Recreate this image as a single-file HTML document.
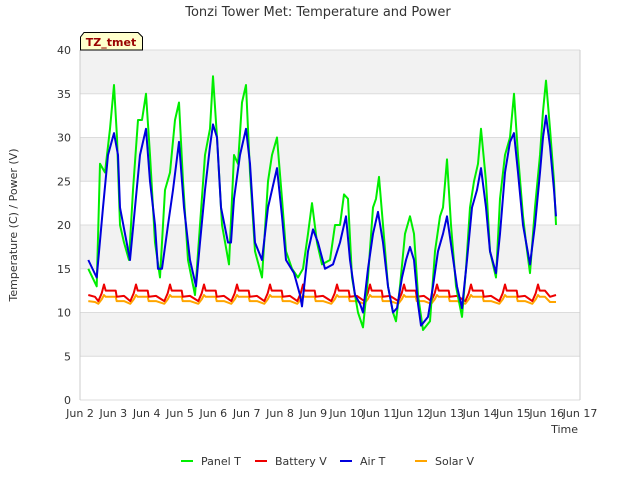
<!DOCTYPE html>
<html><head><meta charset="utf-8"><style>
body{margin:0;background:#fff;font-family:"DejaVu Sans","Liberation Sans",sans-serif;}
svg text{font-family:"DejaVu Sans","Liberation Sans",sans-serif;}
</style></head><body>
<svg id="chart" width="640" height="480" xmlns="http://www.w3.org/2000/svg">
<text x="318" y="16" font-size="13" fill="#333" text-anchor="middle">Tonzi Tower Met: Temperature and Power</text>
<g id="bands"></g>
<g id="grid"></g>
<g id="series"></g>
<g id="axes"></g>
<text transform="translate(17,225) rotate(-90)" font-size="11" fill="#333" text-anchor="middle">Temperature (C) / Power (V)</text>
<text x="578" y="433" font-size="11" fill="#333" text-anchor="end">Time</text>
<g>
<path d="M80.5,50 L80.5,37 L84,32.5 L138,32.5 L142.5,37 L142.5,50 Z" fill="#ffffcc" stroke="#000" stroke-width="1"/>
<text x="111" y="46" font-size="11" font-weight="bold" fill="#990000" text-anchor="middle">TZ_tmet</text>
</g>
<g id="legend"></g>
</svg>
<script>
const panelT_t=[0.25,0.5,0.6,0.75,0.9,1.02,1.11,1.2,1.32,1.47,1.59,1.74,1.86,1.98,2.1,2.25,2.4,2.55,2.7,2.85,2.97,3.09,3.24,3.45,3.6,3.75,3.9,3.99,4.11,4.26,4.47,4.62,4.74,4.86,4.98,5.1,5.25,5.46,5.64,5.76,5.91,6.06,6.18,6.36,6.54,6.69,6.84,6.96,7.11,7.26,7.5,7.65,7.8,7.92,8.04,8.16,8.34,8.49,8.64,8.79,8.88,8.97,9.09,9.24,9.39,9.48,9.6,9.75,9.9,10.02,10.14,10.29,10.5,10.65,10.8,10.89,11.01,11.13,11.28,11.46,11.58,11.7,11.82,11.94,12.03,12.18,12.3,12.48,12.6,12.75,12.9,13.02,13.14,13.29,13.38,13.5,13.65,13.8,13.89,13.98,14.1,14.22,14.28];
const panelT_v=[15,13,27,26,31,36,30,20,18,16,24,32,32,35,28,18,14,24,26,32,34,25,16,12,20,28,31,37,30,20,15.5,28,27,34,36,26,17,14,25,28,30,23,17,15,14,15,19,22.5,18,15.5,16,20,20,23.5,23,14,10,8.3,14,22,23,25.5,20,13,10,9,13,19,21,19,12,8,9,17,21,22,27.5,20,13,9.5,15,22,25,27,31,25,17,14,23,28,30,35,28,21,18,14.5,22,28,33,36.5,31,25,20];
const airT_t=[0.25,0.5,0.69,0.84,1.02,1.14,1.2,1.35,1.5,1.65,1.8,1.98,2.1,2.25,2.34,2.46,2.64,2.79,2.97,3.12,3.3,3.48,3.6,3.75,3.9,3.99,4.11,4.23,4.44,4.53,4.62,4.8,4.98,5.1,5.25,5.46,5.64,5.76,5.91,6.06,6.18,6.42,6.6,6.66,6.84,6.99,7.14,7.35,7.59,7.8,7.98,8.1,8.25,8.4,8.49,8.64,8.79,8.94,9.09,9.24,9.39,9.51,9.66,9.78,9.9,10.02,10.14,10.23,10.44,10.59,10.74,10.89,11.01,11.16,11.31,11.46,11.61,11.76,11.91,12.03,12.18,12.3,12.48,12.6,12.75,12.9,13.02,13.14,13.29,13.5,13.65,13.8,13.89,13.98,14.1,14.22,14.28];
const airT_v=[16,14,22,28,30.5,28,22,19,16,22,28,31,25,20,15,15,20,24,29.5,22,16,13,18,24,29,31.5,30,22,18,18,23,28,31,27,18,16,22,24,26.5,21,16,14.5,12,10.7,17,19.5,18,15,15.5,18,21,16,12,11,10,15,19,21.5,18,13,10,10.5,14,16,17.5,16,11,8.5,9.5,13,17,19,21,17,13,10.5,16,22,24,26.5,22,17,14.5,19,26,29.5,30.5,26,20,15.5,20,26,30,32.5,29,24,21];
const batt_t=[0.25,0.45,0.55,0.65,0.72,0.77,1.07,1.1,1.32,1.51,1.61,1.68,1.73,2.03,2.06,2.28,2.53,2.63,2.7,2.75,3.05,3.08,3.3,3.55,3.65,3.72,3.77,4.07,4.1,4.32,4.54,4.64,4.71,4.76,5.06,5.09,5.31,5.53,5.63,5.7,5.75,6.05,6.08,6.3,6.52,6.62,6.69,6.74,7.04,7.07,7.29,7.54,7.64,7.71,7.76,8.06,8.09,8.31,8.53,8.63,8.7,8.75,9.05,9.08,9.3,9.55,9.65,9.72,9.77,10.07,10.1,10.32,10.54,10.64,10.71,10.76,11.06,11.09,11.31,11.56,11.66,11.73,11.78,12.08,12.11,12.33,12.58,12.68,12.75,12.8,13.1,13.13,13.35,13.57,13.67,13.74,13.79,13.95,14.1,14.28];
const batt_v=[12,11.8,11.3,12.2,13.2,12.5,12.5,11.8,11.9,11.3,12.2,13.2,12.5,12.5,11.8,11.9,11.3,12.2,13.2,12.5,12.5,11.8,11.9,11.3,12.2,13.2,12.5,12.5,11.8,11.9,11.3,12.2,13.2,12.5,12.5,11.8,11.9,11.3,12.2,13.2,12.5,12.5,11.8,11.9,11.3,12.2,13.2,12.5,12.5,11.8,11.9,11.3,12.2,13.2,12.5,12.5,11.8,11.9,11.3,12.2,13.2,12.5,12.5,11.8,11.9,11.3,12.2,13.2,12.5,12.5,11.8,11.9,11.3,12.2,13.2,12.5,12.5,11.8,11.9,11.3,12.2,13.2,12.5,12.5,11.8,11.9,11.3,12.2,13.2,12.5,12.5,11.8,11.9,11.3,12.2,13.2,12.5,12.5,11.8,12];
const solar_t=batt_t;
const solar_v=[11.3,11.2,11.0,11.5,12.0,11.8,11.8,11.3,11.3,11.0,11.5,12.0,11.8,11.8,11.3,11.3,11.0,11.5,12.0,11.8,11.8,11.3,11.3,11.0,11.5,12.0,11.8,11.8,11.3,11.3,11.0,11.5,12.0,11.8,11.8,11.3,11.3,11.0,11.5,12.0,11.8,11.8,11.3,11.3,11.0,11.5,12.0,11.8,11.8,11.3,11.3,11.0,11.5,12.0,11.8,11.8,11.3,11.3,11.0,11.5,12.0,11.8,11.8,11.3,11.3,11.0,11.5,12.0,11.8,11.8,11.3,11.3,11.0,11.5,12.0,11.8,11.8,11.3,11.3,11.0,11.5,12.0,11.8,11.8,11.3,11.3,11.0,11.5,12.0,11.8,11.8,11.3,11.3,11.0,11.5,12.0,11.8,11.8,11.2,11.2];
const xTicks=["Jun 2","Jun 3","Jun 4","Jun 5","Jun 6","Jun 7","Jun 8","Jun 9","Jun 10","Jun 11","Jun 12","Jun 13","Jun 14","Jun 15","Jun 16","Jun 17"];
const yTicks=[0,5,10,15,20,25,30,35,40];
const seriesNames=["Panel T","Battery V","Air T","Solar V"];
const seriesColors=["#00ee00","#ee0000","#0000dd","#ffa500"];

const NS="http://www.w3.org/2000/svg";
const X0=80,X1=580,Y0=400,Y1=50;
const xs=t=>X0+t*(X1-X0)/15;
const ys=v=>Y0-v*(Y0-Y1)/40;
function mk(tag,attrs,parent){const e=document.createElementNS(NS,tag);for(const k in attrs)e.setAttribute(k,attrs[k]);parent.appendChild(e);return e;}
const bands=document.getElementById('bands'),grid=document.getElementById('grid'),axes=document.getElementById('axes'),ser=document.getElementById('series'),leg=document.getElementById('legend');
const bg=mk('rect',{x:X0,y:Y1,width:X1-X0,height:Y0-Y1,fill:'#fff'},bands);


for(let i=0;i<yTicks.length-1;i++){
  if(i%2===1){const r=mk('rect',{x:X0,y:ys(yTicks[i+1]),width:X1-X0,height:ys(yTicks[i])-ys(yTicks[i+1]),fill:'#f2f2f2'},bands);
  
  }
}
yTicks.forEach(v=>{
  const l=mk('line',{x1:X0,x2:X1,y1:ys(v),y2:ys(v),stroke:'#dcdcdc','stroke-width':1},grid);
  
  
  const t=mk('text',{x:X0-9,y:ys(v)+4,'font-size':11,fill:'#333','text-anchor':'end'},axes);
  t.textContent=v;
  
  
});
mk('line',{x1:X0,x2:X0,y1:Y1,y2:Y0,stroke:'#ccc'},axes);
mk('line',{x1:X1,x2:X1,y1:Y1,y2:Y0,stroke:'#ccc'},axes);
xTicks.forEach((s,i)=>{
  const t=mk('text',{x:xs(i),y:Y0+17,'font-size':11,fill:'#333','text-anchor':'middle'},axes);
  t.textContent=s;
  
  
});
function line(ts,vs,color,name){
  const p=mk('polyline',{points:ts.map((t,i)=>xs(t).toFixed(1)+','+ys(vs[i]).toFixed(1)).join(' '),fill:'none',stroke:color,'stroke-width':2,'stroke-linejoin':'round'},ser);
  
  
}
line(solar_t,solar_v,seriesColors[3],'solar-v-line');
line(batt_t,batt_v,seriesColors[1],'battery-v-line');
line(panelT_t,panelT_v,seriesColors[0],'panel-t-line');
line(airT_t,airT_v,seriesColors[2],'air-t-line');
const legX=[181,255,340,415];
seriesNames.forEach((n,i)=>{
  const g=mk('g',{},leg);
  
  
  mk('line',{x1:legX[i],x2:legX[i]+12,y1:461,y2:461,stroke:seriesColors[i],'stroke-width':2},g);
  const t=mk('text',{x:legX[i]+20,y:465,'font-size':11,fill:'#333'},g);
  t.textContent=n;
});
</script>
</body></html>
